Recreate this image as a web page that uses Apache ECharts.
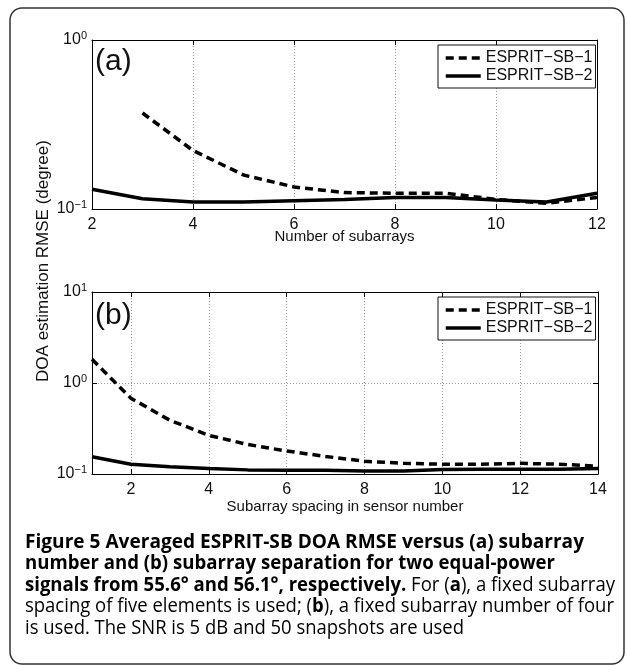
<!DOCTYPE html>
<html>
<head>
<meta charset="utf-8">
<script src="https://cdn.jsdelivr.net/npm/echarts/dist/echarts.min.js"></script>
<style>
html,body{margin:0;padding:0;background:#fff;}
#chart{width:627px;height:666px;}
</style>
</head>
<body>
<div id="chart"></div>
<script>
// ---- data ----
const seriesNames = ['ESPRIT\u2212SB\u22121', 'ESPRIT\u2212SB\u22122'];
// panel (a): number of subarrays
const xA = [2, 3, 4, 5, 6, 7, 8, 9, 10, 11, 12];
const a_sb1 = [null, 0.37, 0.222, 0.159, 0.135, 0.125, 0.124, 0.124, 0.114, 0.108, 0.117];
const a_sb2 = [0.131, 0.115, 0.110, 0.110, 0.112, 0.114, 0.117, 0.117, 0.113, 0.110, 0.124];
const xTicksA = [2, 4, 6, 8, 10, 12];
// panel (b): subarray spacing
const xB = [1, 2, 3, 4, 5, 6, 7, 8, 9, 10, 11, 12, 13, 14];
const b_sb1 = [1.82, 0.68, 0.39, 0.266, 0.211, 0.179, 0.156, 0.138, 0.131, 0.128, 0.128, 0.131, 0.128, 0.122];
const b_sb2 = [0.155, 0.128, 0.120, 0.115, 0.111, 0.110, 0.110, 0.108, 0.108, 0.112, 0.113, 0.113, 0.113, 0.115];
const xTicksB = [2, 4, 6, 8, 10, 12, 14];

const xNameA = 'Number of subarrays';
const xNameB = 'Subarray spacing in sensor number';
const yName = 'DOA estimation RMSE (degree)';
const panelLabels = ['(a)', '(b)'];
const captionLines = [
  [['b', 'Figure 5 Averaged ESPRIT-SB DOA RMSE versus (a) subarray']],
  [['b', 'number and (b) subarray separation for two equal-power']],
  [['b', 'signals from 55.6\u00b0 and 56.1\u00b0, respectively.'], ['r', ' For ('], ['rb', 'a'], ['r', '), a fixed subarray']],
  [['r', 'spacing of five elements is used; ('], ['rb', 'b'], ['r', '), a fixed subarray number of four']],
  [['r', 'is used. The SNR is 5 dB and 50 snapshots are used']]
];

// ---- helpers ----
const AX = '"Liberation Sans", Arial, Helvetica, sans-serif';
const CAPF = '"Open Sans", "Noto Sans", sans-serif';
function pairs(xs, ys) {
  const out = [];
  xs.forEach((x, i) => { if (ys[i] != null) out.push([x, ys[i]]); });
  return out;
}
function supLabel(v) {
  const e = Math.round(Math.log10(v));
  const s = e < 0 ? '\u2212' + (-e) : String(e);
  return '{b|10}{s|' + s + '}';
}
const dotted = { show: true, lineStyle: { color: '#9a9a9a', width: 1, type: [1, 2] } };
const axLine = { show: true, onZero: false, lineStyle: { color: '#000', width: 1 } };
const tickIn = { show: true, inside: true, length: 5, lineStyle: { color: '#000', width: 1 } };

function xAxes(grid, min, max, ticks, name, custom, gap) {
  const base = {
    gridIndex: grid, type: 'value', min: min, max: max,
    axisLine: axLine, axisTick: Object.assign({}, tickIn), silent: true
  };
  if (custom) { base.axisTick.customValues = ticks; } else { base.interval = 2; }
  const bottom = Object.assign({}, base, {
    position: 'bottom',
    axisLabel: Object.assign({ show: true, fontSize: 16, color: '#111', fontFamily: AX, margin: 8 }, custom ? { customValues: ticks } : {}),
    splitLine: dotted,
    name: name, nameLocation: 'middle', nameGap: gap, nameMoveOverlap: false,
    nameTextStyle: { fontSize: 15, color: '#111', fontFamily: AX }
  });
  const top = Object.assign({}, base, {
    position: 'top', axisLabel: { show: false }, splitLine: { show: false }
  });
  return [bottom, top];
}
function yAxes(grid, min, max) {
  const base = {
    gridIndex: grid, type: 'log', logBase: 10, min: min, max: max,
    axisLine: axLine, axisTick: tickIn, minorTick: { show: false }, minorSplitLine: { show: false }, silent: true
  };
  const left = Object.assign({}, base, {
    position: 'left',
    axisLabel: {
      show: true, margin: 5, formatter: supLabel,
      rich: {
        b: { fontSize: 16, color: '#111', fontFamily: AX },
        s: { fontSize: 11, color: '#111', fontFamily: AX, padding: [0, 0, 9, 0] }
      }
    },
    splitLine: dotted
  });
  const right = Object.assign({}, base, {
    position: 'right', axisLabel: { show: false }, splitLine: { show: false }
  });
  return [left, right];
}
function lineSeries(name, xi, yi, data, dashed) {
  return {
    type: 'line', name: name, xAxisIndex: xi, yAxisIndex: yi, data: data,
    symbol: 'none', showSymbol: false, silent: true, animation: false,
    lineStyle: { color: '#000', width: 3.5, type: dashed ? [8, 5] : 'solid', cap: 'butt' },
    itemStyle: { color: '#000' },
    emphasis: { disabled: true }, z: 3
  };
}
function legendAt(top) {
  return {
    orient: 'vertical', left: 438, top: top,
    data: seriesNames, selectedMode: false,
    backgroundColor: '#fff', borderColor: '#111', borderWidth: 1,
    padding: [5, 3, 4, 6], itemWidth: 35, itemHeight: 16, itemGap: 2,
    itemStyle: { opacity: 0, borderWidth: 0 },
    lineStyle: { width: 3.5 },
    textStyle: { fontSize: 16, color: '#111', fontFamily: AX, lineHeight: 16 },
    z: 10
  };
}

// caption fitting
const mctx = document.createElement('canvas').getContext('2d');
function fontOf(kind) {
  return (kind === 'r' ? '' : 'bold ') + '20px ' + CAPF;
}
const captionTargets = [559, 530, 590, 589, 439];
const captionMid = [542, 563.5, 585, 606.5, 628];
const captionGraphics = captionLines.map((line, li) => {
  let w = 0, txt = '';
  line.forEach(([k, t]) => { mctx.font = fontOf(k); w += mctx.measureText(t).width; txt += '{' + k + '|' + t + '}'; });
  return {
    type: 'text', x: 25, y: captionMid[li], scaleX: captionTargets[li] / w, silent: true,
    style: {
      text: txt, verticalAlign: 'middle', align: 'left',
      rich: {
        b: { fontFamily: CAPF, fontWeight: 'bold', fontSize: 20, color: '#1e1e1e' },
        rb: { fontFamily: CAPF, fontWeight: 'bold', fontSize: 20, color: '#1e1e1e' },
        r: { fontFamily: CAPF, fontWeight: 'normal', fontSize: 20, color: '#3c3c3c' }
      }
    }
  };
});

const chart = echarts.init(document.getElementById('chart'), null, { renderer: 'canvas' });
const xa = xAxes(0, 2, 12, xTicksA, xNameA, false, 20);
const xb = xAxes(1, 1, 14, xTicksB, xNameB, true, 25);
const ya = yAxes(0, 0.1, 1);
const yb = yAxes(1, 0.1, 10);

chart.setOption({
  animation: false,
  backgroundColor: '#fff',
  grid: [
    { left: 92, top: 40, width: 505, height: 169, show: false, containLabel: false, outerBoundsMode: 'none' },
    { left: 92, top: 292, width: 506, height: 182, show: false, containLabel: false, outerBoundsMode: 'none' }
  ],
  xAxis: [xa[0], xa[1], xb[0], xb[1]],
  yAxis: [ya[0], ya[1], yb[0], yb[1]],
  legend: [legendAt(45), legendAt(297)],
  tooltip: { show: false },
  series: [
    lineSeries(seriesNames[0], 0, 0, pairs(xA, a_sb1), true),
    lineSeries(seriesNames[1], 0, 0, pairs(xA, a_sb2), false),
    lineSeries(seriesNames[0], 2, 2, pairs(xB, b_sb1), true),
    lineSeries(seriesNames[1], 2, 2, pairs(xB, b_sb2), false)
  ],
  graphic: [
    { type: 'rect', silent: true, shape: { x: 10, y: 8, width: 614, height: 656, r: 12 },
      style: { fill: 'none', stroke: '#333', lineWidth: 1.5 }, z: -1 },
    { type: 'text', silent: true, x: 43, y: 261, rotation: Math.PI / 2,
      style: { text: yName, fontFamily: AX, fontSize: 17, fill: '#111', align: 'center', verticalAlign: 'middle' } },
    { type: 'text', silent: true, x: 95, y: 62,
      style: { text: panelLabels[0], fontFamily: AX, fontSize: 30, fill: '#111', align: 'left', verticalAlign: 'middle' } },
    { type: 'text', silent: true, x: 95, y: 316,
      style: { text: panelLabels[1], fontFamily: AX, fontSize: 30, fill: '#111', align: 'left', verticalAlign: 'middle' } }
  ].concat(captionGraphics)
});
</script>
</body>
</html>
